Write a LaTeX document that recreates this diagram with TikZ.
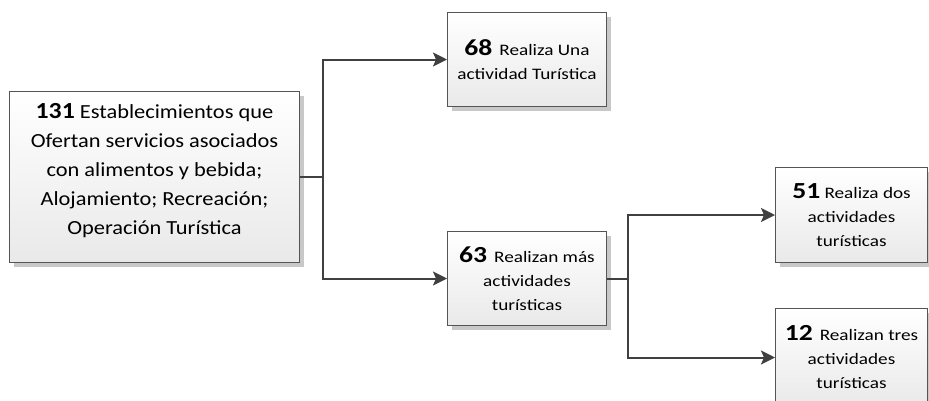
\documentclass[tikz,border=0pt]{standalone}
\usepackage{fontspec}
\setmainfont{Carlito}
\newfontfamily\widebig[FakeStretch=1.12]{Carlito}
\newfontfamily\widesmall[FakeStretch=1.2]{Carlito}
\usetikzlibrary{arrows.meta,calc,shadows}
\definecolor{edge}{HTML}{555555}
\definecolor{conn}{HTML}{404040}
\definecolor{shade}{HTML}{C8C8C8}
\definecolor{fillbot}{HTML}{E9E9E9}
\tikzset{
  box/.style={draw=edge, line width=1pt, top color=white, bottom color=fillbot,
    drop shadow={shadow xshift=4pt, shadow yshift=-4pt, fill=shade, opacity=1},
    anchor=north west, inner sep=0pt, align=center},
  conarrow/.style={draw=conn, line width=2pt, -{Stealth[length=14pt,width=14pt,inset=3pt]}},
  conline/.style={draw=conn, line width=2pt},
  bigtxt/.style={font=\widebig\fontsize{20}{29}\selectfont, align=center},
  smalltxt/.style={font=\widesmall\fontsize{16}{24}\selectfont, align=center}
}
\newcommand{\numA}[1]{{\fontsize{23}{24}\selectfont\bfseries #1}}
\newcommand{\numB}[1]{{\fontsize{23}{24}\selectfont\bfseries #1}}
\begin{document}
\begin{tikzpicture}[x=1pt,y=-1pt]
\useasboundingbox (0,0) rectangle (929,400);
\clip (0,0) rectangle (929,400);
\node[box, minimum width=290pt, minimum height=171pt] (b1) at (9,91) {};
\node[bigtxt, anchor=north] (t1) at ($(b1.north)+(0,9)$) {\numA{131} Establecimientos que\\Ofertan servicios asociados\\con alimentos y bebida;\\Alojamiento; Recreación;\\Operación Turística};
\node[box, smalltxt, minimum width=159pt, minimum height=94pt] (b68) at (447,12) {\numB{68}\, Realiza Una\\actividad Turística};
\node[box, smalltxt, minimum width=159pt, minimum height=94pt] (b63) at (447,231) {\numB{63}\, Realizan más\\actividades\\turísticas};
\node[box, smalltxt, minimum width=152pt, minimum height=95pt] (b51) at (775,167) {\numB{51} Realiza dos\\actividades\\turísticas};
\node[box, smalltxt, minimum width=152pt, minimum height=98pt] (b12) at (775,308) {\numB{12}\, Realizan tres\\actividades\\turísticas};
\coordinate (j1) at (323,0);
\coordinate (j2) at (628,0);
\draw[conline] (b1.east) -- (b1.east -| j1);
\draw[conarrow] (b1.east -| j1) |- (b68.west);
\draw[conarrow] (b1.east -| j1) |- (b63.west);
\draw[conline] (b63.east) -- (b63.east -| j2);
\draw[conarrow] (b63.east -| j2) |- (b51.west);
\draw[conarrow] (b63.east -| j2) |- (b12.west);
\end{tikzpicture}
\end{document}
